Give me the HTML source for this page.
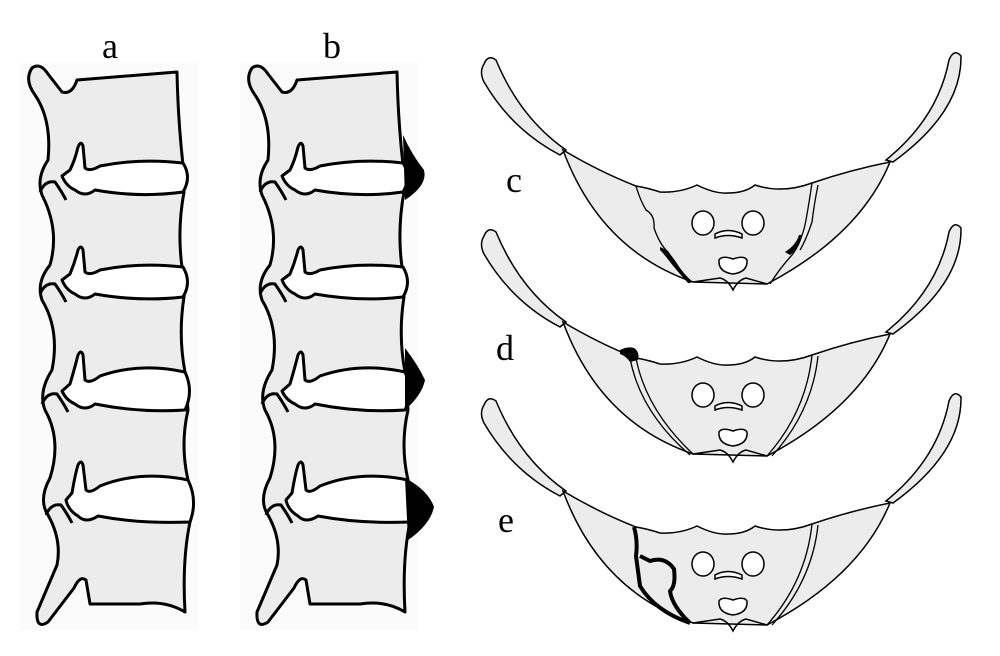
<!DOCTYPE html>
<html><head><meta charset="utf-8"><style>
html,body{margin:0;padding:0;background:#fff;}
svg{display:block;}
text{font-family:"Liberation Serif",serif;font-size:36px;fill:#000;}
</style></head><body>
<svg width="1000" height="656" viewBox="0 0 1000 656" xmlns="http://www.w3.org/2000/svg">
<defs>
<g id="col">
  <rect x="20" y="62" width="178" height="568" fill="#fbfbfb"/>
  <path d="M77,80 Q125,76 177,72 Q178,120 183,165 L184,192 Q177,230 182,267 L184,297 Q178,335 185,372 L188,410 Q180,445 188,480 L190,522 Q182,560 185,612 Q165,600 140,604 L90,604 L86,580 Q80,575 74,588 L48,622 Q36,630 37,612 L57,565 Q62,540 48,515 Q38,500 50,478 Q62,440 45,410 Q38,392 52,370 Q60,330 42,300 Q36,282 50,265 Q60,230 42,195 Q36,178 48,160 Q52,120 35,95 Q24,80 32,68 Q40,62 48,74 L62,92 Q72,95 77,80 Z" fill="#ececec" stroke="#000" stroke-width="3" stroke-linejoin="round"/>
  <g fill="#fff" stroke="#000" stroke-width="3" stroke-linejoin="round">
    <path d="M62,176 L70,170 Q75,160 78,147 Q81,140 83,146 L85,168 Q90,172 100,166 Q140,158 183,163 Q192,177 183,192 Q140,198 95,190 Q85,198 75,190 Q66,186 62,176 Z"/>
    <path d="M62,280 L70,274 Q75,262 78,250 Q81,244 83,250 L85,272 Q90,276 100,270 Q140,262 183,267 Q192,282 183,297 Q140,302 95,294 Q85,302 75,294 Q66,290 62,280 Z"/>
    <path d="M62,391 L70,384 Q75,367 78,355 Q81,349 83,355 L85,380 Q90,384 100,376 Q140,362 185,372 Q194,391 185,410 Q140,413 95,404 Q85,412 75,404 Q66,400 62,391 Z"/>
    <path d="M66,500 L72,493 Q75,475 78,465 Q81,459 83,465 L86,490 Q90,494 100,486 Q140,470 188,480 Q198,500 190,522 Q140,524 98,516 Q86,524 78,516 Q68,510 66,500 Z"/>
  </g>
  <g fill="none" stroke="#000" stroke-width="3">
    <path d="M40,192 Q45,180 55,182 Q62,192 66,200"/>
    <path d="M40,294 Q45,282 55,284 Q62,294 66,302"/>
    <path d="M42,404 Q47,392 57,394 Q64,404 68,412"/>
    <path d="M46,515 Q51,503 61,505 Q68,515 72,523"/>
  </g>
</g>
<g id="pel">
  <path d="M484,64 Q488,54 496,60 Q520,118 566,150 L560,155 Q512,130 484,82 Q479,72 484,64 Z" fill="#ececec" stroke="#000" stroke-width="1.5"/>
  <path d="M949,60 Q954,48 961,56 Q962,112 893,162 L886,160 Q938,118 949,60 Z" fill="#ececec" stroke="#000" stroke-width="1.5"/>
  <path d="M563,150 Q600,172 636,186 Q648,188 660,192 Q680,193 697,185 Q715,194 728,193 Q745,193 755,185 Q782,194 812,183 Q850,170 890,162 Q860,235 767,284 L693,282 Q600,250 563,150 Z" fill="#ececec" stroke="#000" stroke-width="1.5"/>
  <path d="M693,282 L720,278 Q728,280 733,290 Q738,280 746,278 L767,284" fill="none" stroke="#000" stroke-width="1.5"/>
  <ellipse cx="703" cy="223" rx="11" ry="12" fill="#fff" stroke="#000" stroke-width="1.5"/>
  <ellipse cx="753" cy="223" rx="11" ry="12" fill="#fff" stroke="#000" stroke-width="1.5"/>
  <path d="M715,234 Q728,227 742,234 L742,238 Q728,233 715,238 Z" fill="#fff" stroke="#000" stroke-width="1.5"/>
  <path d="M719,260 Q722,255 733,259 Q744,255 747,260 Q748,272 733,274 Q718,272 719,260 Z" fill="#fff" stroke="#000" stroke-width="1.5"/>
</g>
</defs>
<rect width="1000" height="656" fill="#fff"/>
<text x="102" y="58">a</text>
<text x="323" y="58">b</text>
<use href="#col"/>
<g transform="translate(220,0)"><use href="#col"/></g>
<g fill="#000">
  <path d="M403,135 Q412,155 424,170 Q428,185 405,200 Z"/>
  <path d="M405,348 Q418,365 425,380 Q422,395 405,410 Z"/>
  <path d="M405,478 Q428,490 434,507 Q430,525 408,540 Z"/>
</g>
<text x="506" y="192">c</text>
<use href="#pel"/>
<g fill="none" stroke="#000" stroke-width="1.3">
  <path d="M636,186 Q640,200 646,210 Q655,215 654,228 Q660,245 668,252 Q680,270 690,283"/>
  <path d="M812,183 Q808,210 805,225 Q800,245 792,255 Q780,268 770,284"/>
  <path d="M818,185 Q814,205 812,222 Q806,240 800,250"/>
</g>
<path d="M660,247 Q668,250 676,262 Q684,275 693,282 L688,283 Q678,272 670,262 Q664,254 660,250 Z" fill="#000"/>
<path d="M802,235 Q800,248 790,255 L785,252 Q796,245 799,235 Z" fill="#000"/>
<text x="496" y="360">d</text>
<g transform="translate(0,172)"><use href="#pel"/>
  <g fill="none" stroke="#000" stroke-width="1.3">
    <path d="M630,186 Q640,240 690,283"/><path d="M636,186 Q646,238 693,282"/>
    <path d="M812,183 Q806,240 767,284"/><path d="M818,184 Q812,240 772,284"/>
  </g>
  <path d="M620,178 Q628,174 634,176 Q640,180 638,188 L630,190 Q626,184 620,182 Z" fill="#000"/>
</g>
<text x="498" y="532">e</text>
<g transform="translate(0,341)"><use href="#pel"/>
  <g fill="none" stroke="#000" stroke-width="1.3">
    <path d="M812,183 Q806,240 767,284"/><path d="M818,184 Q812,240 772,284"/>
  </g>
  <g fill="none" stroke="#000" stroke-width="4" stroke-linejoin="round">
    <path d="M634,186 Q638,200 636,215 L640,245 Q655,270 690,282"/>
    <path d="M640,215 L650,220 Q665,215 674,228 Q676,245 670,250 Q672,265 690,282"/>
  </g>
</g>
</svg>
</body></html>
